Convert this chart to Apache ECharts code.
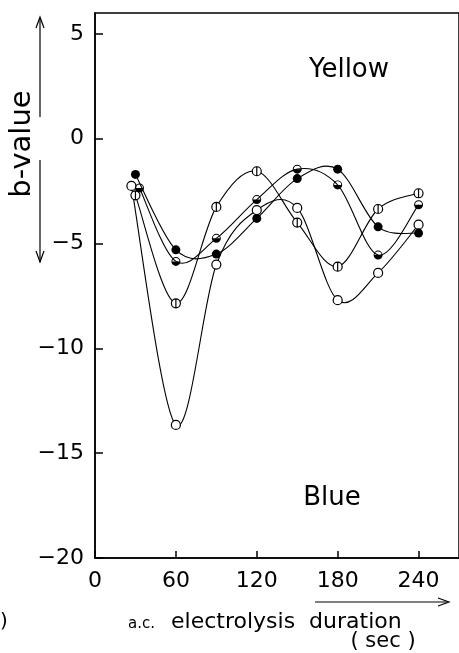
<!DOCTYPE html>
<html lang="en">
<head>
<meta charset="UTF-8">
<title>b-value vs a.c. electrolysis duration</title>
<script src="https://cdn.jsdelivr.net/npm/echarts@6/dist/echarts.min.js"></script>
<style>
  html, body { margin: 0; padding: 0; background: #fff; }
  #main { width: 459px; height: 653px; }
</style>
</head>
<body>
<div id="main"></div>
<script>
// x positions (sec) of each curve; the first points are slightly shifted in the figure
var xFilled = [30, 60, 90, 120, 150, 180, 210, 240];
var xOpen   = [27, 60, 90, 120, 150, 180, 210, 240];
var xBar    = [30, 60, 90, 120, 150, 180, 210, 240];
var xHalf   = [33, 60, 90, 120, 150, 180, 210, 240];

// b-values
var bFilled = [-1.7, -5.3, -5.5, -3.8, -1.9, -1.45, -4.2, -4.5];
var bOpen   = [-2.25, -13.65, -6.0, -3.4, -3.3, -7.7, -6.4, -4.1];
var bBar    = [-2.7, -7.85, -3.25, -1.55, -4.0, -6.1, -3.35, -2.6];
var bHalf   = [-2.35, -5.85, -4.75, -2.9, -1.45, -2.2, -5.55, -3.15];

var FONT = 'DejaVu Sans';

function pairs(xs, ys) {
    var out = [];
    for (var i = 0; i < xs.length; i++) {
        out.push([xs[i], ys[i]]);
    }
    return out;
}

// circle with a vertical bar, and circle with lower half filled
var barSymbol  = 'path://M0,-5A5,5 0 1,1 0,5A5,5 0 1,1 0,-5ZM0,-5L0,5';
var halfSymbol = 'path://M-5,0A5,5 0 1,1 5,0A5,5 0 1,1 -5,0ZM3.9,0A3.9,3.9 0 0,0 -3.9,0Z';

// hand drawn looking curve: catmull-rom segments between the points
function spline(name, xs, ys) {
    var data = pairs(xs, ys);
    return {
        name: name + '-line',
        type: 'custom',
        data: data,
        encode: { x: 0, y: 1 },
        z: 2,
        silent: true,
        renderItem: function (params, api) {
            var i = params.dataIndex;
            var n = data.length;
            if (i >= n - 1) return null;
            var p0 = api.coord(data[Math.max(i - 1, 0)]);
            var p1 = api.coord(data[i]);
            var p2 = api.coord(data[i + 1]);
            var p3 = api.coord(data[Math.min(i + 2, n - 1)]);
            return {
                type: 'bezierCurve',
                shape: {
                    x1: p1[0], y1: p1[1],
                    cpx1: p1[0] + (p2[0] - p0[0]) / 6,
                    cpy1: p1[1] + (p2[1] - p0[1]) / 6,
                    cpx2: p2[0] - (p3[0] - p1[0]) / 6,
                    cpy2: p2[1] - (p3[1] - p1[1]) / 6,
                    x2: p2[0], y2: p2[1]
                },
                style: { stroke: '#000', fill: null, lineWidth: 1.1 }
            };
        }
    };
}

function marks(name, xs, ys, symbol, fill, border) {
    return {
        name: name,
        type: 'scatter',
        data: pairs(xs, ys),
        z: 5,
        symbol: symbol,
        symbolSize: 9,
        itemStyle: { color: fill, borderColor: '#000', borderWidth: border, opacity: 1 },
        emphasis: { disabled: true }
    };
}

var myChart = echarts.init(document.getElementById('main'));

var option = {
    backgroundColor: '#fff',
    animation: false,
    grid: {
        left: 95, top: 13, right: -8, bottom: 95,
        show: true, borderColor: '#000', borderWidth: 1.5
    },
    xAxis: {
        type: 'value',
        min: 0, max: 270, interval: 60,
        axisLine: { show: true, onZero: false, lineStyle: { color: '#000', width: 1.5 } },
        axisTick: { show: true, inside: true, length: 7, lineStyle: { color: '#000', width: 1.5 } },
        axisLabel: { color: '#000', fontFamily: FONT, fontSize: 22, margin: 12, showMaxLabel: false },
        splitLine: { show: false }
    },
    yAxis: {
        type: 'value',
        min: -20, max: 6, interval: 5,
        axisLine: { show: true, onZero: false, lineStyle: { color: '#000', width: 1.5 } },
        axisTick: { show: true, inside: true, length: 8, lineStyle: { color: '#000', width: 1.5 } },
        axisLabel: {
            color: '#000', fontFamily: FONT, fontSize: 22, margin: 11, showMaxLabel: false,
            formatter: function (v) { return String(v).replace('-', '\u2212'); }
        },
        splitLine: { show: false }
    },
    series: [
        spline('open', xOpen, bOpen),
        spline('bar', xBar, bBar),
        spline('half', xHalf, bHalf),
        spline('filled', xFilled, bFilled),
        marks('open', xOpen, bOpen, 'circle', '#fff', 1.2),
        marks('bar', xBar, bBar, barSymbol, '#fff', 1.2),
        marks('half', xHalf, bHalf, halfSymbol, '#000', 0),
        marks('filled', xFilled, bFilled, 'circle', '#000', 0)
    ],
    graphic: [
        // y axis name with arrows
        { type: 'text', x: 22, y: 144, rotation: Math.PI / 2, style: {
            text: 'b-value', fill: '#000', font: '29px "' + FONT + '"', align: 'center', verticalAlign: 'middle' } },
        { type: 'line', shape: { x1: 40, y1: 117, x2: 40, y2: 18 }, style: { stroke: '#000', lineWidth: 1.2 } },
        { type: 'polyline', shape: { points: [[36, 28], [40, 17], [44, 28]] }, style: { stroke: '#000', lineWidth: 1.2, fill: null } },
        { type: 'line', shape: { x1: 40, y1: 160, x2: 40, y2: 262 }, style: { stroke: '#000', lineWidth: 1.2 } },
        { type: 'polyline', shape: { points: [[36, 251], [40, 262], [44, 251]] }, style: { stroke: '#000', lineWidth: 1.2, fill: null } },
        // region labels
        { type: 'text', x: 349, y: 70, style: {
            text: 'Yellow', fill: '#000', font: '26px "' + FONT + '"', align: 'center', verticalAlign: 'middle' } },
        { type: 'text', x: 332, y: 498, style: {
            text: 'Blue', fill: '#000', font: '26px "' + FONT + '"', align: 'center', verticalAlign: 'middle' } },
        // x axis name with arrow
        { type: 'line', shape: { x1: 315, y1: 602, x2: 448, y2: 602 }, style: { stroke: '#000', lineWidth: 1.2 } },
        { type: 'polyline', shape: { points: [[438, 598], [449, 602], [438, 606]] }, style: { stroke: '#000', lineWidth: 1.2, fill: null } },
        { type: 'text', x: 128, y: 624, style: {
            text: 'a.c.', fill: '#000', font: '15px "' + FONT + '"', align: 'left', verticalAlign: 'middle' } },
        { type: 'text', x: 171, y: 622, style: {
            text: 'electrolysis  duration', fill: '#000', font: '22px "' + FONT + '"', align: 'left', verticalAlign: 'middle' } },
        { type: 'text', x: 383, y: 642, style: {
            text: '( sec )', fill: '#000', font: '21px "' + FONT + '"', align: 'center', verticalAlign: 'middle' } },
        { type: 'text', x: 0, y: 622, style: {
            text: ')', fill: '#000', font: '20px "' + FONT + '"', align: 'left', verticalAlign: 'middle' } }
    ]
};

myChart.setOption(option);
</script>
</body>
</html>
